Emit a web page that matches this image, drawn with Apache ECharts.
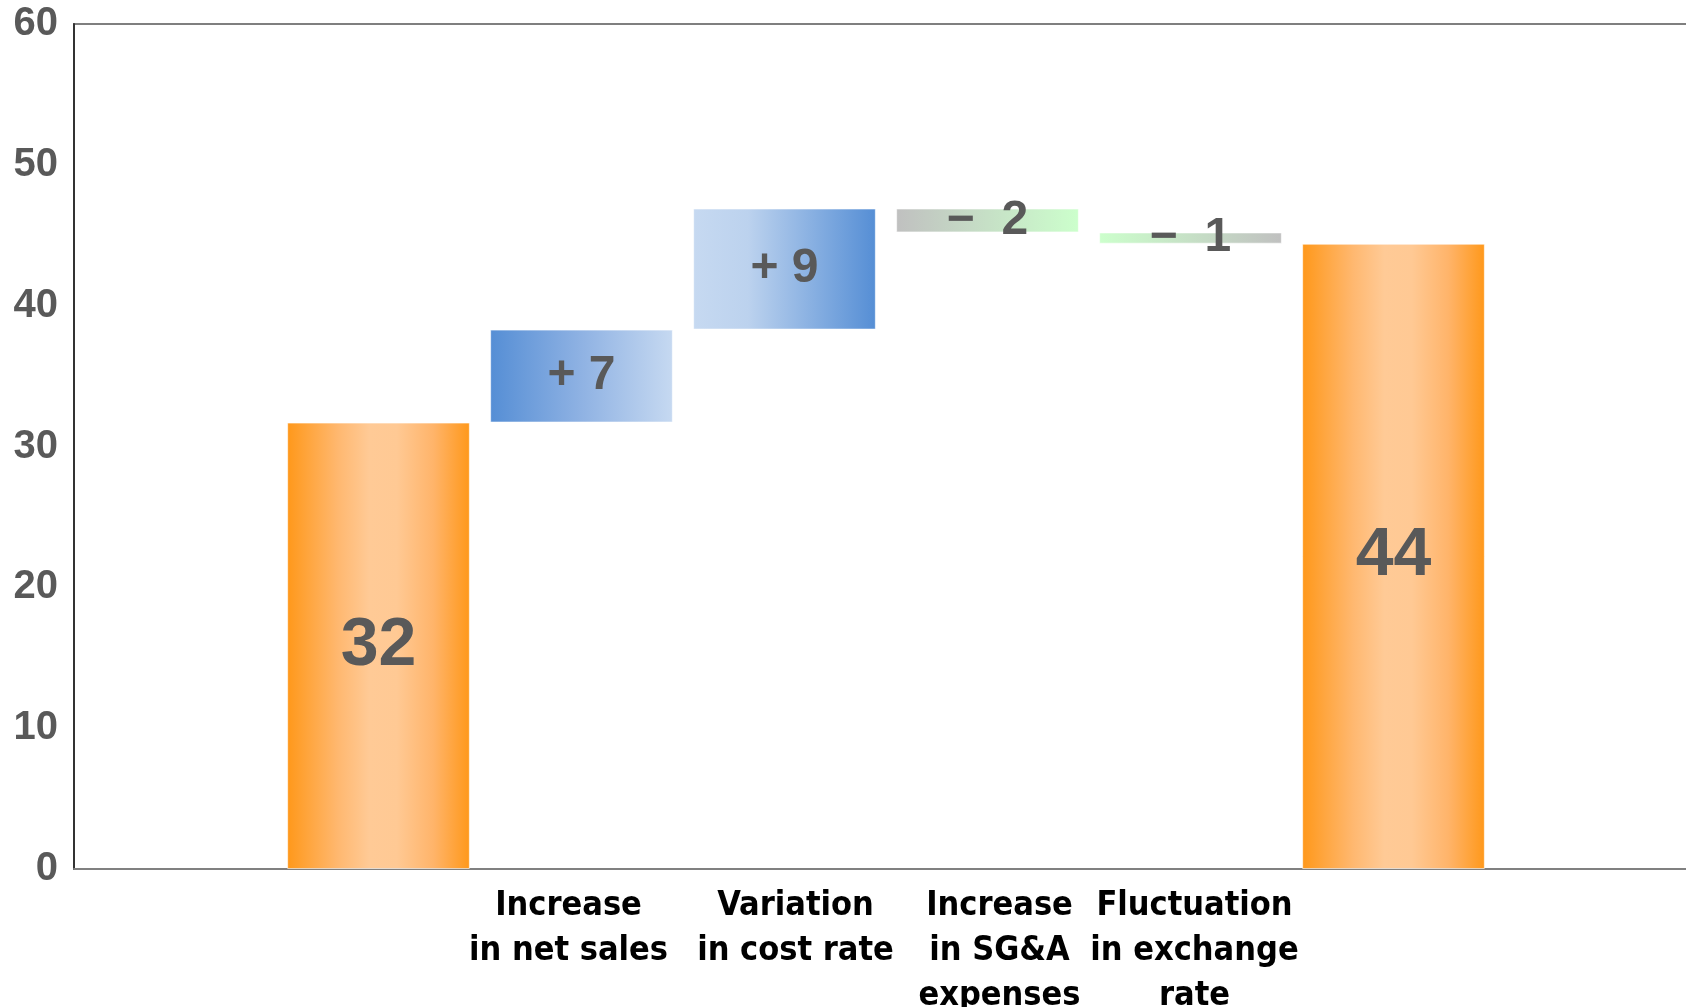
<!DOCTYPE html>
<html>
<head>
<meta charset="utf-8">
<title>Operating income bridge</title>
<script src="https://cdn.jsdelivr.net/npm/echarts@6/dist/echarts.min.js"></script>
<style>
  html, body { margin: 0; padding: 0; background: #fff; }
  #chart { width: 1686px; height: 1007px; }
</style>
</head>
<body>
<div id="chart"></div>
<script>
// Category slots: empty padding slot at each end, opening/closing totals unlabeled
const categories = [
  '', '',
  'Increase\nin net sales',
  'Variation\nin cost rate',
  'Increase\nin SG&A\nexpenses',
  'Fluctuation\nin exchange\nrate',
  '', ''
];
const startValue = 31.7;
const changes = [6.6, 8.6, -1.7, -0.8];
const endValue = 44.4;
const yTicks = [0, 10, 20, 30, 40, 50, 60];

// Build invisible base + visible segment for the waterfall
const baseData = [];
const barData = [];
const kinds = [];
baseData.push(null); barData.push(null); kinds.push(null);
baseData.push(0); barData.push(startValue); kinds.push('total');
let running = startValue;
changes.forEach((c, i) => {
  const next = running + c;
  baseData.push(Math.min(running, next));
  barData.push(Math.abs(c));
  kinds.push(c >= 0 ? (i % 2 === 0 ? 'upA' : 'upB') : (i % 2 === 0 ? 'downA' : 'downB'));
  running = next;
});
baseData.push(0); barData.push(endValue); kinds.push('total');
baseData.push(null); barData.push(null); kinds.push(null);

function grad(stops) {
  return {
    type: 'linear', x: 0, y: 0, x2: 1, y2: 0,
    colorStops: stops.map(s => ({ offset: s[0], color: s[1] }))
  };
}
const fills = {
  total: grad([[0, '#ff981a'], [0.28, '#ffb870'], [0.45, '#ffca96'], [0.6, '#ffc994'], [0.8, '#ffb46a'], [1, '#ff981a']]),
  upA: grad([[0, '#558ed5'], [0.5, '#8fb2e3'], [1, '#c6d9f1']]),
  upB: grad([[0, '#c6d9f1'], [0.3, '#bcd2ee'], [1, '#558ed5']]),
  downA: grad([[0, '#c0c0c0'], [0.5, '#c6e0c6'], [1, '#ccffcc']]),
  downB: grad([[0, '#ccffcc'], [0.5, '#c6e0c6'], [1, '#c0c0c0']])
};

function labelText(i) {
  const v = barData[i];
  if (v == null) return '';
  if (kinds[i] === 'total') return String(Math.round(v));
  const c = changes[i - 2];
  return (c >= 0 ? '+ ' : '\u2212  ') + Math.round(Math.abs(c));
}

const seriesData = barData.map((v, i) => {
  if (v == null) return null;
  const isTotal = kinds[i] === 'total';
  return {
    value: v,
    itemStyle: { color: fills[kinds[i]], borderColor: 'rgba(255,255,255,0.6)', borderWidth: 1 },
    label: {
      show: true,
      position: 'inside',
      formatter: () => labelText(i),
      fontSize: isTotal ? 68 : 48,
      fontWeight: 'bold',
      fontFamily: 'Liberation Sans, Arial, sans-serif',
      color: '#595959'
    }
  };
});

// Small horizontal nudges of the category captions (px, + moves right)
const captionShift = [0, 0, -13, 11, 12, 4, 0, 0];
const xAxisData = categories.map((name, i) => {
  const s = captionShift[i];
  return {
    value: name,
    textStyle: { padding: s >= 0 ? [0, 0, 0, 2 * s] : [0, -2 * s, 0, 0] }
  };
});

const chart = echarts.init(document.getElementById('chart'));
chart.setOption({
  animation: false,
  backgroundColor: '#ffffff',
  grid: {
    left: 74, top: 24, right: -12, bottom: 138,
    containLabel: false,
    outerBoundsMode: 'none',
    show: true, borderColor: '#7f7f7f', borderWidth: 2
  },
  xAxis: {
    type: 'category',
    data: xAxisData,
    axisLine: { show: true, lineStyle: { color: '#808080', width: 2 } },
    axisTick: { show: false },
    axisLabel: {
      interval: 0,
      margin: 15,
      color: '#000000',
      fontSize: 34,
      lineHeight: 45,
      fontWeight: 'bold',
      fontFamily: 'Liberation Sans Narrow, DejaVu Sans Condensed, Arial Narrow, Liberation Sans, sans-serif'
    }
  },
  yAxis: {
    type: 'value',
    min: yTicks[0],
    max: yTicks[yTicks.length - 1],
    interval: 10,
    splitLine: { show: false },
    axisLine: { show: true, lineStyle: { color: '#333333', width: 2 } },
    axisTick: { show: false },
    axisLabel: {
      margin: 16,
      color: '#595959',
      fontSize: 40,
      fontWeight: 'bold',
      fontFamily: 'Liberation Sans, Arial, sans-serif'
    }
  },
  series: [
    {
      type: 'bar',
      stack: 'wf',
      data: baseData,
      itemStyle: { color: 'transparent' },
      silent: true,
      barWidth: '90%'
    },
    {
      type: 'bar',
      stack: 'wf',
      data: seriesData,
      barWidth: '90%'
    }
  ]
});
</script>
</body>
</html>
